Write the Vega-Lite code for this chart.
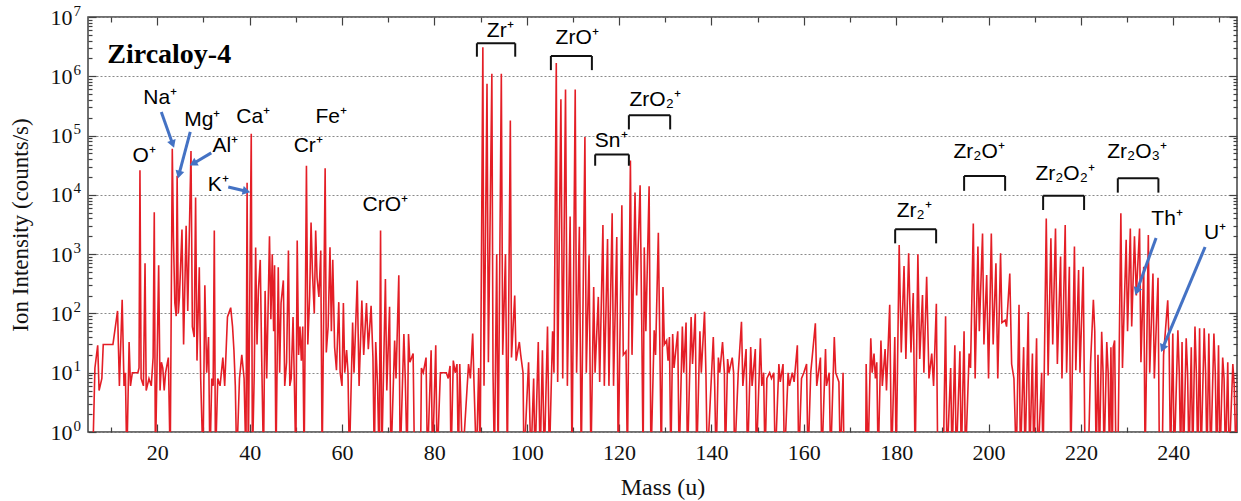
{
"$schema": "https://vega.github.io/schema/vega-lite/v6.json",
"width": 1149, "height": 415,
"autosize": {"type": "none"},
"padding": {"left": 88, "top": 17, "right": 4, "bottom": 69},
"config": {"view": {"stroke": "#404040", "strokeWidth": 1.5}, "axis": {"domain": false, "tickColor": "#404040", "tickWidth": 1.2, "labelFont": "Liberation Serif", "titleFont": "Liberation Serif", "labelColor": "#111", "titleColor": "#111", "titleFontWeight": "normal"}},
"datasets": {
"spec": [
{"m":6.0,"v":0.3},{"m":6.5,"v":12},{"m":7.1,"v":29},{"m":7.4,"v":5},{"m":8.0,"v":8},{"m":8.3,"v":30},{"m":10.4,"v":30},{"m":11.4,"v":110},{"m":11.8,"v":6},{"m":12.4,"v":170},{"m":12.8,"v":6},{"m":13.1,"v":10},{"m":13.4,"v":0.3},{"m":13.9,"v":33},{"m":14.2,"v":6},{"m":14.6,"v":10},{"m":15.8,"v":10},{"m":16.05,"v":12},{"m":16.25,"v":26000},{"m":16.5,"v":8},{"m":17.0,"v":6},{"m":17.35,"v":700},{"m":17.6,"v":5},{"m":18.2,"v":8},{"m":18.7,"v":6},{"m":19.1,"v":18},{"m":19.35,"v":5100},{"m":19.6,"v":0.3},{"m":20.3,"v":650},{"m":20.6,"v":5},{"m":20.9,"v":15},{"m":21.2,"v":12},{"m":21.5,"v":5},{"m":21.8,"v":10},{"m":22.4,"v":18},{"m":22.8,"v":0.3},{"m":23.25,"v":60000},{"m":23.5,"v":1900},{"m":23.8,"v":150},{"m":24.1,"v":90},{"m":24.3,"v":21000},{"m":24.55,"v":100},{"m":24.8,"v":190},{"m":25.35,"v":2600},{"m":25.7,"v":30},{"m":26.25,"v":3000},{"m":26.6,"v":110},{"m":27.3,"v":55000},{"m":27.6,"v":60},{"m":28.0,"v":40},{"m":28.3,"v":9000},{"m":28.6,"v":16},{"m":29.1,"v":600},{"m":29.4,"v":8},{"m":29.9,"v":0.3},{"m":30.3,"v":300},{"m":30.7,"v":10},{"m":31.1,"v":40},{"m":31.4,"v":0.3},{"m":31.8,"v":8},{"m":32.1,"v":6},{"m":32.35,"v":2500},{"m":32.6,"v":0.3},{"m":33.1,"v":8},{"m":33.6,"v":6},{"m":34.2,"v":18},{"m":34.6,"v":6},{"m":35.2,"v":87},{"m":35.9,"v":125},{"m":36.3,"v":60},{"m":36.6,"v":24},{"m":36.9,"v":6},{"m":37.2,"v":0.3},{"m":37.8,"v":8},{"m":38.3,"v":20},{"m":38.8,"v":8},{"m":39.2,"v":0.3},{"m":39.45,"v":16000},{"m":39.7,"v":0.3},{"m":40.35,"v":107000},{"m":40.6,"v":0.3},{"m":41.0,"v":10},{"m":41.3,"v":1300},{"m":41.6,"v":30},{"m":41.9,"v":245},{"m":42.3,"v":800},{"m":42.6,"v":20},{"m":43.0,"v":0.3},{"m":43.35,"v":240},{"m":43.7,"v":8},{"m":44.3,"v":2000},{"m":44.6,"v":80},{"m":44.9,"v":1000},{"m":45.2,"v":50},{"m":45.4,"v":650},{"m":45.7,"v":0.3},{"m":46.2,"v":600},{"m":46.5,"v":10},{"m":46.8,"v":150},{"m":47.3,"v":360},{"m":47.6,"v":6},{"m":48.0,"v":15},{"m":48.4,"v":1150},{"m":48.7,"v":6},{"m":49.0,"v":8},{"m":49.4,"v":87},{"m":49.7,"v":6},{"m":50.0,"v":0.3},{"m":50.3,"v":1700},{"m":50.6,"v":20},{"m":50.9,"v":60},{"m":51.2,"v":16},{"m":51.5,"v":60},{"m":51.8,"v":0.3},{"m":52.3,"v":31000},{"m":52.6,"v":30},{"m":53.0,"v":200},{"m":53.3,"v":3400},{"m":53.6,"v":500},{"m":54.0,"v":100},{"m":54.3,"v":2500},{"m":54.6,"v":400},{"m":55.0,"v":190},{"m":55.4,"v":1150},{"m":55.7,"v":0.3},{"m":56.35,"v":28000},{"m":56.6,"v":22},{"m":57.0,"v":60},{"m":57.4,"v":1300},{"m":57.7,"v":50},{"m":58.0,"v":800},{"m":58.4,"v":27},{"m":58.8,"v":11},{"m":59.3,"v":155},{"m":59.6,"v":10},{"m":60.0,"v":6},{"m":60.3,"v":150},{"m":60.6,"v":10},{"m":61.0,"v":24},{"m":61.3,"v":10},{"m":61.6,"v":0.3},{"m":62.3,"v":70},{"m":62.6,"v":10},{"m":63.3,"v":360},{"m":63.7,"v":6},{"m":64.3,"v":165},{"m":64.7,"v":20},{"m":65.3,"v":150},{"m":65.7,"v":25},{"m":66.3,"v":135},{"m":66.7,"v":18},{"m":67.0,"v":0.3},{"m":67.3,"v":33},{"m":67.7,"v":6},{"m":68.05,"v":0.3},{"m":68.35,"v":2500},{"m":68.6,"v":0.3},{"m":69.4,"v":380},{"m":69.7,"v":5},{"m":70.3,"v":130},{"m":70.6,"v":0.3},{"m":71.4,"v":35},{"m":71.7,"v":8},{"m":72.3,"v":440},{"m":72.6,"v":0.3},{"m":73.4,"v":45},{"m":73.7,"v":8},{"m":74.1,"v":0.3},{"m":74.4,"v":45},{"m":74.7,"v":15},{"m":75.4,"v":21},{"m":75.7,"v":0.3},{"m":77.0,"v":0.3},{"m":77.2,"v":12},{"m":77.6,"v":10},{"m":78.2,"v":18},{"m":78.5,"v":0.3},{"m":79.3,"v":24},{"m":79.6,"v":0.3},{"m":80.3,"v":29},{"m":80.6,"v":0.3},{"m":81.3,"v":10},{"m":82.6,"v":10},{"m":83.0,"v":8},{"m":83.4,"v":13},{"m":83.6,"v":0.3},{"m":84.1,"v":16},{"m":84.5,"v":10},{"m":84.9,"v":14},{"m":85.2,"v":0.3},{"m":85.5,"v":14},{"m":86.1,"v":0.3},{"m":87.4,"v":14},{"m":87.8,"v":8},{"m":88.3,"v":46},{"m":88.6,"v":6},{"m":89.1,"v":0.3},{"m":89.6,"v":12},{"m":89.9,"v":0.3},{"m":90.5,"v":3100000},{"m":90.75,"v":6},{"m":91.4,"v":750000},{"m":91.7,"v":15},{"m":92.45,"v":1100000},{"m":92.7,"v":10},{"m":93.0,"v":0.3},{"m":93.5,"v":1000},{"m":93.8,"v":0.3},{"m":94.5,"v":1100000},{"m":94.8,"v":20},{"m":95.4,"v":1000},{"m":95.8,"v":0.3},{"m":96.45,"v":180000},{"m":96.7,"v":18},{"m":97.4,"v":200},{"m":97.7,"v":16},{"m":98.4,"v":33},{"m":98.7,"v":20},{"m":99.2,"v":10},{"m":99.4,"v":0.3},{"m":100.4,"v":15},{"m":100.9,"v":0.3},{"m":101.5,"v":8},{"m":101.8,"v":0.3},{"m":102.5,"v":33},{"m":102.9,"v":0.3},{"m":103.4,"v":24},{"m":103.8,"v":0.3},{"m":104.5,"v":60},{"m":104.9,"v":0.3},{"m":105.6,"v":50},{"m":105.9,"v":10},{"m":106.4,"v":1670000},{"m":106.7,"v":7},{"m":107.4,"v":410000},{"m":107.8,"v":8},{"m":108.4,"v":600000},{"m":108.8,"v":6},{"m":109.4,"v":4300},{"m":109.8,"v":0.3},{"m":110.5,"v":600000},{"m":110.8,"v":10},{"m":111.4,"v":2900},{"m":111.8,"v":0.3},{"m":112.6,"v":95000},{"m":112.9,"v":10},{"m":113.5,"v":960},{"m":113.9,"v":0.3},{"m":114.5,"v":280},{"m":114.8,"v":10},{"m":115.5,"v":190},{"m":115.8,"v":7},{"m":116.5,"v":3100},{"m":116.8,"v":6},{"m":117.5,"v":1800},{"m":117.8,"v":6},{"m":118.5,"v":4900},{"m":118.8,"v":6},{"m":119.5,"v":1950},{"m":119.8,"v":0.3},{"m":120.6,"v":6700},{"m":120.9,"v":20},{"m":121.5,"v":23},{"m":121.8,"v":0.3},{"m":122.45,"v":38000},{"m":122.8,"v":20},{"m":123.45,"v":11000},{"m":123.8,"v":200},{"m":124.55,"v":14500},{"m":124.9,"v":77},{"m":125.2,"v":0.3},{"m":125.45,"v":1300},{"m":125.8,"v":50},{"m":126.5,"v":14000},{"m":126.9,"v":0.3},{"m":127.6,"v":52},{"m":127.9,"v":20},{"m":128.5,"v":2300},{"m":128.8,"v":40},{"m":129.15,"v":0.3},{"m":129.5,"v":280},{"m":129.8,"v":30},{"m":130.3,"v":35},{"m":130.6,"v":16},{"m":130.9,"v":40},{"m":131.2,"v":0.3},{"m":131.6,"v":45},{"m":131.9,"v":12},{"m":132.7,"v":50},{"m":133.0,"v":0.3},{"m":133.7,"v":60},{"m":134.0,"v":10},{"m":134.5,"v":70},{"m":134.8,"v":0.3},{"m":135.6,"v":87},{"m":135.9,"v":14},{"m":136.5,"v":100},{"m":136.8,"v":0.3},{"m":137.5,"v":50},{"m":137.8,"v":10},{"m":138.5,"v":107},{"m":138.8,"v":10},{"m":139.1,"v":0.3},{"m":140.4,"v":40},{"m":140.7,"v":6},{"m":141.0,"v":0.3},{"m":141.5,"v":18},{"m":141.8,"v":10},{"m":142.4,"v":33},{"m":142.8,"v":10},{"m":143.0,"v":0.3},{"m":143.5,"v":17},{"m":143.8,"v":10},{"m":144.5,"v":18},{"m":144.8,"v":10},{"m":145.0,"v":0.3},{"m":145.8,"v":10},{"m":146.5,"v":72},{"m":146.8,"v":6},{"m":147.5,"v":25},{"m":147.8,"v":0.3},{"m":148.5,"v":27},{"m":148.8,"v":6},{"m":149.5,"v":25},{"m":149.7,"v":0.3},{"m":150.6,"v":38},{"m":150.9,"v":6},{"m":151.3,"v":10},{"m":151.6,"v":0.3},{"m":152.0,"v":8},{"m":152.6,"v":10},{"m":153.0,"v":8},{"m":153.5,"v":10},{"m":153.8,"v":0.3},{"m":154.6,"v":14},{"m":154.9,"v":7},{"m":155.5,"v":14},{"m":155.8,"v":0.3},{"m":156.6,"v":10},{"m":156.9,"v":6},{"m":157.5,"v":10},{"m":157.9,"v":7},{"m":158.6,"v":29},{"m":158.9,"v":0.3},{"m":159.5,"v":8},{"m":160.0,"v":10},{"m":160.6,"v":14},{"m":160.9,"v":0.3},{"m":161.5,"v":10},{"m":162.5,"v":68},{"m":162.8,"v":6},{"m":163.6,"v":18},{"m":163.9,"v":0.3},{"m":164.7,"v":25},{"m":164.9,"v":6},{"m":165.5,"v":10},{"m":165.8,"v":0.3},{"m":166.6,"v":40},{"m":166.9,"v":10},{"m":167.6,"v":7},{"m":167.9,"v":0.3},{"m":168.5,"v":10},{"m":168.7,"v":0.3},{"m":173.4,"v":0.3},{"m":173.5,"v":14},{"m":173.9,"v":0.3},{"m":174.5,"v":38},{"m":174.8,"v":10},{"m":175.2,"v":21},{"m":175.5,"v":8},{"m":175.8,"v":15},{"m":176.1,"v":0.3},{"m":176.7,"v":35},{"m":177.0,"v":6},{"m":177.6,"v":25},{"m":177.9,"v":5},{"m":178.6,"v":140},{"m":179.0,"v":0.3},{"m":179.7,"v":40},{"m":180.0,"v":0.3},{"m":180.65,"v":1420},{"m":181.1,"v":22},{"m":181.7,"v":630},{"m":182.1,"v":17},{"m":182.7,"v":1030},{"m":183.2,"v":22},{"m":183.7,"v":220},{"m":184.1,"v":0.3},{"m":184.7,"v":1000},{"m":185.1,"v":17},{"m":185.7,"v":205},{"m":186.0,"v":10},{"m":186.6,"v":415},{"m":187.1,"v":8},{"m":187.7,"v":21},{"m":188.1,"v":6},{"m":188.7,"v":145},{"m":189.0,"v":0.3},{"m":190.2,"v":0.3},{"m":190.7,"v":90},{"m":191.0,"v":0.3},{"m":191.8,"v":12},{"m":192.1,"v":0.3},{"m":192.7,"v":29},{"m":193.0,"v":0.3},{"m":193.8,"v":23},{"m":194.1,"v":0.3},{"m":194.7,"v":50},{"m":195.0,"v":0.3},{"m":195.8,"v":21},{"m":196.1,"v":12},{"m":196.7,"v":3300},{"m":197.1,"v":8},{"m":197.7,"v":1340},{"m":198.0,"v":50},{"m":198.7,"v":2230},{"m":199.0,"v":30},{"m":199.6,"v":445},{"m":200.0,"v":8},{"m":200.6,"v":2230},{"m":201.0,"v":30},{"m":201.6,"v":700},{"m":202.0,"v":8},{"m":202.6,"v":1030},{"m":202.9,"v":70},{"m":203.6,"v":77},{"m":203.9,"v":60},{"m":204.6,"v":470},{"m":205.0,"v":14},{"m":205.5,"v":8},{"m":206.0,"v":0.3},{"m":206.6,"v":140},{"m":206.9,"v":0.3},{"m":207.6,"v":27},{"m":207.9,"v":0.3},{"m":208.6,"v":106},{"m":208.9,"v":0.3},{"m":209.5,"v":21},{"m":209.8,"v":0.3},{"m":210.4,"v":38},{"m":210.7,"v":0.3},{"m":211.5,"v":10},{"m":211.8,"v":0.3},{"m":212.5,"v":4000},{"m":212.9,"v":9},{"m":213.5,"v":1860},{"m":213.9,"v":30},{"m":214.5,"v":2700},{"m":214.9,"v":14},{"m":215.6,"v":910},{"m":215.9,"v":8},{"m":216.6,"v":3100},{"m":216.9,"v":10},{"m":217.5,"v":610},{"m":217.8,"v":0.3},{"m":218.6,"v":1340},{"m":218.9,"v":11},{"m":219.5,"v":540},{"m":219.8,"v":10},{"m":220.5,"v":610},{"m":220.9,"v":0.3},{"m":221.6,"v":0.3},{"m":222.1,"v":15},{"m":222.7,"v":170},{"m":223.0,"v":50},{"m":223.3,"v":0.3},{"m":223.7,"v":20},{"m":224.0,"v":0.3},{"m":224.5,"v":49},{"m":224.8,"v":10},{"m":225.0,"v":0.3},{"m":225.6,"v":33},{"m":225.9,"v":10},{"m":226.2,"v":0.3},{"m":226.5,"v":27},{"m":226.8,"v":0.3},{"m":227.0,"v":27},{"m":227.3,"v":35},{"m":227.6,"v":0.3},{"m":228.0,"v":0.3},{"m":228.65,"v":4900},{"m":229.0,"v":12},{"m":229.8,"v":1740},{"m":230.1,"v":50},{"m":230.7,"v":2700},{"m":231.0,"v":60},{"m":231.6,"v":2000},{"m":232.0,"v":200},{"m":232.7,"v":2700},{"m":233.0,"v":15},{"m":233.6,"v":610},{"m":233.9,"v":0.3},{"m":234.6,"v":2100},{"m":234.9,"v":10},{"m":235.6,"v":470},{"m":235.9,"v":8},{"m":236.7,"v":400},{"m":237.0,"v":0.3},{"m":237.6,"v":0.3},{"m":237.9,"v":20},{"m":238.8,"v":166},{"m":239.1,"v":30},{"m":239.4,"v":0.3},{"m":239.9,"v":46},{"m":240.2,"v":0.3},{"m":241.0,"v":52},{"m":241.3,"v":10},{"m":241.6,"v":0.3},{"m":241.9,"v":33},{"m":242.2,"v":0.3},{"m":242.8,"v":38},{"m":243.1,"v":10},{"m":243.4,"v":0.3},{"m":243.9,"v":27},{"m":244.2,"v":0.3},{"m":244.7,"v":60},{"m":245.0,"v":10},{"m":245.3,"v":0.3},{"m":245.7,"v":56},{"m":246.0,"v":0.3},{"m":246.7,"v":56},{"m":247.0,"v":10},{"m":247.3,"v":0.3},{"m":247.7,"v":46},{"m":248.1,"v":0.3},{"m":248.8,"v":46},{"m":249.1,"v":10},{"m":249.4,"v":0.3},{"m":249.8,"v":29},{"m":250.1,"v":0.3},{"m":250.7,"v":18},{"m":251.0,"v":8},{"m":251.3,"v":0.3},{"m":251.8,"v":15},{"m":252.1,"v":0.3},{"m":252.9,"v":14},{"m":253.2,"v":6},{"m":253.6,"v":0.3},{"m":254.0,"v":13}
],
"ann": [
{"label":"O⁺","m":17.19,"v":45000},{"label":"Na⁺","m":20.65,"v":430000},{"label":"Mg⁺","m":29.74,"v":183000},{"label":"Ca⁺","m":40.78,"v":206000},{"label":"Al⁺","m":34.72,"v":66000},{"label":"K⁺","m":33.21,"v":14700},{"label":"Fe⁺","m":57.67,"v":206000},{"label":"Cr⁺","m":52.69,"v":66000},{"label":"CrO⁺","m":69.36,"v":6700},{"label":"Zr⁺","m":94.26,"v":5800000},{"label":"ZrO⁺","m":110.93,"v":4400000},{"label":"Sn⁺","m":118.29,"v":81000},{"label":"ZrO₂⁺","m":127.81,"v":400000},{"label":"Zr₂⁺","m":183.89,"v":5300},{"label":"Zr₂O⁺","m":197.96,"v":53000},{"label":"Zr₂O₂⁺","m":216.58,"v":22500},{"label":"Zr₂O₃⁺","m":232.17,"v":53000},{"label":"Th⁺","m":238.66,"v":3900},{"label":"U⁺","m":249.05,"v":2270}
],
"br": [
{"g":"Zr","m1":89.21,"m2":97.51,"top":3600000,"bot":2140000},{"g":"ZrO","m1":105.23,"m2":114.11,"top":2200000,"bot":1270000},{"g":"Sn","m1":114.82,"m2":122.12,"top":48000,"bot":31000},{"g":"ZrO2","m1":122.12,"m2":131.06,"top":220000,"bot":127000},{"g":"Zr2","m1":179.78,"m2":188.65,"top":2620,"bot":1520},{"g":"Zr2O","m1":194.71,"m2":203.59,"top":20800,"bot":11700},{"g":"Zr2O2","m1":211.82,"m2":220.69,"top":9700,"bot":5550},{"g":"Zr2O3","m1":227.99,"m2":236.78,"top":19000,"bot":10900}
],
"arr": [
{"id":"Na","m1":20.87,"v1":250000,"m2":23.25,"v2":75000},{"id":"Mg","m1":27.14,"v1":115000,"m2":24.76,"v2":23000},{"id":"Al","m1":31.69,"v1":51000,"m2":28.01,"v2":34500},{"id":"K","m1":35.37,"v1":13600,"m2":39.05,"v2":11600},{"id":"Th","m1":236.28,"v1":1870,"m2":232.17,"v2":247},{"id":"U","m1":246.89,"v1":1320,"m2":237.8,"v2":27}
],
"one": [{"m":100,"v":10}]
},
"layer": [
{"data":{"name":"spec"},"mark":{"type":"line","color":"#E41E26","strokeWidth":1.6,"clip":true},
"encoding":{
"x":{"field":"m","type":"quantitative","scale":{"domain":[5,253.8],"nice":false,"zero":false},"axis":{"orient":"bottom","values":[20,40,60,80,100,120,140,160,180,200,220,240],"format":"d","tickSize":-8,"labelFontSize":22,"labelPadding":18,"grid":false,"title":"Mass (u)","titleFontSize":24,"titlePadding":12}},
"y":{"field":"v","type":"quantitative","scale":{"type":"log","domain":[1,10000000],"nice":false},"axis":{"orient":"left","values":[1,10,100,1000,10000,100000,1000000,10000000],"labels":false,"tickSize":-8,"grid":true,"gridDash":[2,2],"gridColor":"#8a8a8a","gridWidth":1,"title":null}}
}},
{"data":{"name":"one"},"mark":{"type":"point","opacity":0},
"encoding":{
"x":{"field":"m","type":"quantitative","axis":{"orient":"bottom","values":[10,30,50,70,90,110,130,150,170,190,210,230,250],"labels":false,"tickSize":-5,"grid":false,"title":null}},
"y":{"field":"v","type":"quantitative","axis":{"orient":"left","values":[2,3,4,5,6,7,8,9,20,30,40,50,60,70,80,90,200,300,400,500,600,700,800,900,2000,3000,4000,5000,6000,7000,8000,9000,20000,30000,40000,50000,60000,70000,80000,90000,200000,300000,400000,500000,600000,700000,800000,900000,2000000,3000000,4000000,5000000,6000000,7000000,8000000,9000000],"labels":false,"tickSize":-4,"grid":false,"title":null}}
}},
{"data":{"name":"one"},"mark":{"type":"point","opacity":0},
"encoding":{
"x":{"field":"m","type":"quantitative","axis":{"orient":"top","values":[20,40,60,80,100,120,140,160,180,200,220,240],"labels":false,"tickSize":-8,"grid":false,"title":null}},
"y":{"field":"v","type":"quantitative","axis":{"orient":"right","values":[1,10,100,1000,10000,100000,1000000,10000000],"labels":false,"tickSize":-8,"grid":false,"title":null}}
}},
{"data":{"name":"one"},"mark":{"type":"point","opacity":0},
"encoding":{
"x":{"field":"m","type":"quantitative","axis":{"orient":"top","values":[10,30,50,70,90,110,130,150,170,190,210,230,250],"labels":false,"tickSize":-5,"grid":false,"title":null}},
"y":{"field":"v","type":"quantitative","axis":{"orient":"right","values":[2,3,4,5,6,7,8,9,20,30,40,50,60,70,80,90,200,300,400,500,600,700,800,900,2000,3000,4000,5000,6000,7000,8000,9000,20000,30000,40000,50000,60000,70000,80000,90000,200000,300000,400000,500000,600000,700000,800000,900000,2000000,3000000,4000000,5000000,6000000,7000000,8000000,9000000],"labels":false,"tickSize":-4,"grid":false,"title":null}}
}},
{"data":{"name":"one"},"mark":{"type":"point","opacity":0},
"encoding":{
"y":{"field":"v","type":"quantitative","axis":{"orient":"left","values":[1,10,100,1000,10000,100000,1000000,10000000],"labelExpr":"'10'","ticks":false,"tickSize":0,"labelPadding":16,"labelFontSize":22,"labelAlign":"right","labelBaseline":"middle","grid":false,"title":"Ion Intensity (counts/s)","titleFontSize":23,"titlePadding":18}}
}},
{"data":{"name":"one"},"mark":{"type":"point","opacity":0},
"encoding":{
"y":{"field":"v","type":"quantitative","axis":{"orient":"left","values":[1,10,100,1000,10000,100000,1000000,10000000],"labelExpr":"format(round(log(datum.value)/LN10), 'd')","ticks":false,"tickSize":0,"labelPadding":15,"labelFontSize":15,"labelAlign":"left","labelBaseline":"middle","labelOffset":-7,"grid":false,"title":null}}
}},
{"data":{"name":"br"},"mark":{"type":"rule","color":"#111","strokeWidth":2},
"encoding":{"x":{"field":"m1","type":"quantitative","axis":null},"x2":{"field":"m2"},"y":{"field":"top","type":"quantitative","axis":null}}},
{"data":{"name":"br"},"mark":{"type":"rule","color":"#111","strokeWidth":2},
"encoding":{"x":{"field":"m1","type":"quantitative","axis":null},"y":{"field":"bot","type":"quantitative","axis":null},"y2":{"field":"top"}}},
{"data":{"name":"br"},"mark":{"type":"rule","color":"#111","strokeWidth":2},
"encoding":{"x":{"field":"m2","type":"quantitative","axis":null},"y":{"field":"bot","type":"quantitative","axis":null},"y2":{"field":"top"}}},
{"data":{"name":"arr"},"mark":{"type":"rule","color":"#4472C4","strokeWidth":3},
"encoding":{"x":{"field":"m1","type":"quantitative","axis":null},"y":{"field":"v1","type":"quantitative","axis":null},"x2":{"field":"m2"},"y2":{"field":"v2"}}},
{"data":{"name":"arr"},"transform":[{"filter":"datum.id == 'Na'"}],"mark":{"type":"point","shape":"triangle","filled":true,"color":"#4472C4","opacity":1,"size":80,"angle":160},
"encoding":{"x":{"field":"m2","type":"quantitative","axis":null},"y":{"field":"v2","type":"quantitative","axis":null}}},
{"data":{"name":"arr"},"transform":[{"filter":"datum.id == 'Mg'"}],"mark":{"type":"point","shape":"triangle","filled":true,"color":"#4472C4","opacity":1,"size":80,"angle":195},
"encoding":{"x":{"field":"m2","type":"quantitative","axis":null},"y":{"field":"v2","type":"quantitative","axis":null}}},
{"data":{"name":"arr"},"transform":[{"filter":"datum.id == 'Al'"}],"mark":{"type":"point","shape":"triangle","filled":true,"color":"#4472C4","opacity":1,"size":80,"angle":240},
"encoding":{"x":{"field":"m2","type":"quantitative","axis":null},"y":{"field":"v2","type":"quantitative","axis":null}}},
{"data":{"name":"arr"},"transform":[{"filter":"datum.id == 'K'"}],"mark":{"type":"point","shape":"triangle","filled":true,"color":"#4472C4","opacity":1,"size":80,"angle":103},
"encoding":{"x":{"field":"m2","type":"quantitative","axis":null},"y":{"field":"v2","type":"quantitative","axis":null}}},
{"data":{"name":"arr"},"transform":[{"filter":"datum.id == 'Th'"}],"mark":{"type":"point","shape":"triangle","filled":true,"color":"#4472C4","opacity":1,"size":80,"angle":200},
"encoding":{"x":{"field":"m2","type":"quantitative","axis":null},"y":{"field":"v2","type":"quantitative","axis":null}}},
{"data":{"name":"arr"},"transform":[{"filter":"datum.id == 'U'"}],"mark":{"type":"point","shape":"triangle","filled":true,"color":"#4472C4","opacity":1,"size":80,"angle":203},
"encoding":{"x":{"field":"m2","type":"quantitative","axis":null},"y":{"field":"v2","type":"quantitative","axis":null}}},
{"data":{"name":"ann"},"mark":{"type":"text","font":"Liberation Sans","fontSize":21,"color":"#000","align":"center","baseline":"middle"},
"encoding":{"x":{"field":"m","type":"quantitative","axis":null},"y":{"field":"v","type":"quantitative","axis":null},"text":{"field":"label"}}},
{"data":{"values":[{"label":"Zircaloy-4","m":9.17,"v":2290000}]},"mark":{"type":"text","font":"Liberation Serif","fontWeight":"bold","fontSize":28,"color":"#000","align":"left","baseline":"middle"},
"encoding":{"x":{"field":"m","type":"quantitative","axis":null},"y":{"field":"v","type":"quantitative","axis":null},"text":{"field":"label"}}}
],
"resolve":{"axis":{"x":"independent","y":"independent"}}
}
